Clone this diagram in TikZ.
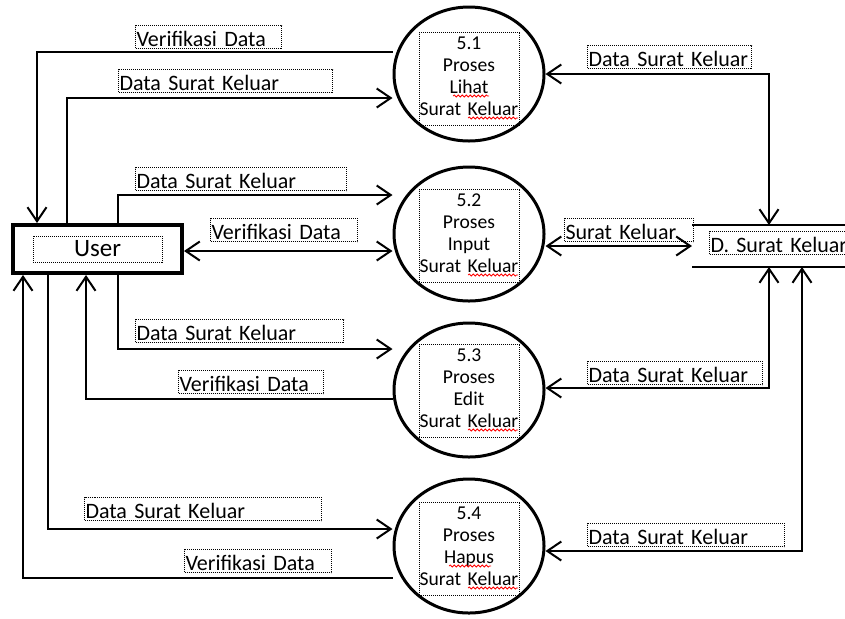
\documentclass[tikz,border=0pt]{standalone}
\usepackage{fontspec}
\setmainfont{Carlito}
\usetikzlibrary{shapes, arrows.meta, positioning, decorations.pathmorphing}

\begin{document}
\begin{tikzpicture}[
    x=0.5pt, y=-0.5pt,
    line width=1pt,
    >={Straight Barb[length=7pt,width=9.5pt]}
  ]

  % Styles
  \tikzstyle{process}=[draw, ellipse, line width=1.5pt, minimum width=75pt, minimum height=67pt, inner sep=0pt]
  \tikzstyle{proctext}=[draw, line width=0.5pt, dash pattern=on 0.5pt off 0.5pt, text width=50pt, minimum height=46.5pt, inner sep=0pt, align=center, font=\fontsize{9.8}{11}\selectfont, execute at end node={\rule[-3pt]{0pt}{3pt}}]
  \tikzstyle{entity}=[draw, line width=2pt, minimum width=84.5pt, minimum height=24pt]
  \tikzstyle{entitytext}=[draw, line width=0.5pt, dash pattern=on 0.5pt off 0.5pt, minimum width=64.5pt, minimum height=13pt, inner sep=0pt, font=\fontsize{12.5}{14}\selectfont]
  \tikzstyle{store}=[minimum width=80pt, minimum height=20pt]
  \tikzstyle{flow}=[draw, line width=0.5pt, dash pattern=on 0.5pt off 0.5pt, anchor=south west, inner xsep=0.5pt, inner ysep=0pt, text height=10.5pt, text depth=1pt, align=left, font=\fontsize{11}{12}\selectfont]
  \tikzstyle{typo}=[draw=red, line width=0.4pt, decorate, decoration={snake, amplitude=0.5pt, segment length=2pt}]

  \useasboundingbox (0,0) rectangle (845,618);

  % External entity
  \node[entity] (u) at (97.5,249) {};
  \node[entitytext] (ut) at (u) {User};

  % Processes
  \node[process] (p1) at (469,74) {};
  \node[proctext] (t1) at (469,79) {5.1\\Proses\\Lihat\\Surat Keluar};
  \node[process] (p2) at (469,234) {};
  \node[proctext] (t2) at (469,236) {5.2\\Proses\\Input\\Surat Keluar};
  \node[process] (p3) at (469,390) {};
  \node[proctext] (t3) at (469,391) {5.3\\Proses\\Edit\\Surat Keluar};
  \node[process] (p4) at (469,546) {};
  \node[proctext] (t4) at (469,549) {5.4\\Proses\\Hapus\\Surat Keluar};

  % Spell-check waves
  \draw[typo] ([xshift=-8pt,yshift=15pt]t1.south) -- ++(36,0);
  \draw[typo] ([xshift=-10pt,yshift=15pt]t4.south) -- ++(42,0);
  \foreach \t in {t1,t2,t3,t4}
    \draw[typo] ([xshift=-0.5pt,yshift=4pt]\t.south) -- ++(50,0);

  % Data store (runs off the right edge)
  \node[store] (ds) at (773,246) {};
  \draw (ds.north west) -- (ds.north east);
  \draw (ds.south west) -- (ds.south east);
  \node[flow, text width=81pt] (dst) at (709,255) {D. Surat Keluar};

  % Flows of 5.1
  \draw[<-] (u.north -| 37,0) |- (p1.west |- 0,52);
  \draw[->] (u.north -| 67,0) |- (p1.west |- 0,98);
  \draw[<->] (p1.east) -| (ds.north -| 769,0);
  \node[flow, text width=72pt] (f1) at (135,49) {Verifikasi Data};
  \node[flow, text width=106pt] (f2) at (118,93) {Data Surat Keluar};
  \node[flow, text width=81pt] (f3) at (587,69) {Data Surat Keluar};

  % Flows of 5.2
  \draw[->] (u.north -| 118,0) |- (p2.west |- 0,195);
  \draw[<->] (u.east |- 0,251) -- (p2.west |- 0,251);
  \draw[<->] (p2.east |- 0,246) -- (ds.west |- 0,246);
  \node[flow, text width=104.5pt] (f4) at (135,191) {Data Surat Keluar};
  \node[flow, text width=72.5pt] (f5) at (210,242) {Verifikasi Data};
  \node[flow, text width=63.5pt] (f6) at (564,242) {Surat Keluar};

  % Flows of 5.3
  \draw[->] (u.south -| 118,0) |- (p3.west |- 0,349);
  \draw[->] (p3.west |- 0,399) -| (u.south -| 86,0);
  \draw[<->] (p3.east |- 0,388) -| (ds.south -| 769,0);
  \node[flow, text width=103pt] (f7) at (135,343) {Data Surat Keluar};
  \node[flow, text width=71.5pt] (f8) at (178,394) {Verifikasi Data};
  \node[flow, text width=86.5pt] (f9) at (587,385) {Data Surat Keluar};

  % Flows of 5.4
  \draw[->] (u.south -| 48,0) |- (p4.west |- 0,529);
  \draw[->] (p4.west |- 0,578) -| (u.south -| 23,0);
  \draw[<->] (p4.east |- 0,551) -| (ds.south -| 802,0);
  \node[flow, text width=117.5pt] (f10) at (84,521) {Data Surat Keluar};
  \node[flow, text width=72.5pt] (f11) at (184,573) {Verifikasi Data};
  \node[flow, text width=97.5pt] (f12) at (587,547) {Data Surat Keluar};

\end{tikzpicture}
\end{document}
